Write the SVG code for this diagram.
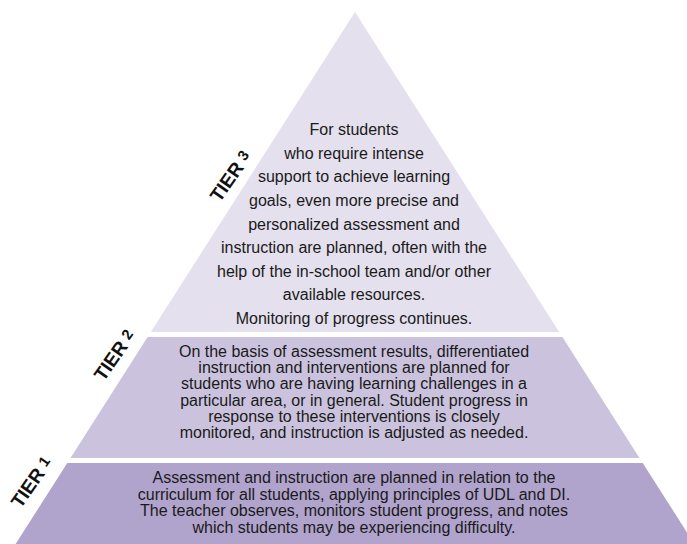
<svg xmlns="http://www.w3.org/2000/svg" width="687" height="544" viewBox="0 0 687 544">
<style>
.t{font-family:"Liberation Sans",Arial,sans-serif;font-size:16px;fill:#1a1a1a;text-anchor:middle}
.lab{font-family:"Liberation Sans",Arial,sans-serif;font-weight:bold;font-size:19px;fill:#111;text-anchor:middle}
.num{font-size:15px}
</style>
<rect width="687" height="544" fill="#ffffff"/>
<g id="tier3">
<polygon points="355,12 150.8,332 559.2,332" fill="#e4e0ed"/>
<text class="t" x="354" y="135">For students</text>
<text class="t" x="354" y="158.5">who require intense</text>
<text class="t" x="354" y="182">support to achieve learning</text>
<text class="t" x="354" y="206">goals, even more precise and</text>
<text class="t" x="354" y="229.5">personalized assessment and</text>
<text class="t" x="354" y="253">instruction are planned, often with the</text>
<text class="t" x="354" y="277">help of the in-school team and/or other</text>
<text class="t" x="354" y="300">available resources.</text>
<text class="t" x="354" y="323.5">Monitoring of progress continues.</text>
<text class="lab" transform="translate(236,180) rotate(-55)">TIER <tspan class="num" dy="-3">3</tspan></text>
</g>
<g id="tier2">
<polygon points="147.6,337 562.4,337 639.5,458 70.5,458" fill="#cbc3de"/>
<text class="t" x="354" y="357">On the basis of assessment results, differentiated</text>
<text class="t" x="354" y="373.2">instruction and interventions are planned for</text>
<text class="t" x="354" y="389.4">students who are having learning challenges in a</text>
<text class="t" x="354" y="405.6">particular area, or in general. Student progress in</text>
<text class="t" x="354" y="421.8">response to these interventions is closely</text>
<text class="t" x="354" y="438">monitored, and instruction is adjusted as needed.</text>
<text class="lab" transform="translate(120,359) rotate(-55)">TIER <tspan class="num" dy="-3">2</tspan></text>
</g>
<g id="tier1">
<polygon points="67.3,463 642.7,463 694.4,544 15.6,544" fill="#b0a3cc"/>
<text class="t" x="354" y="483">Assessment and instruction are planned in relation to the</text>
<text class="t" x="354" y="499.5">curriculum for all students, applying principles of UDL and DI.</text>
<text class="t" x="354" y="516">The teacher observes, monitors student progress, and notes</text>
<text class="t" x="354" y="532.5">which students may be experiencing difficulty.</text>
<text class="lab" transform="translate(37,486) rotate(-55)">TIER <tspan class="num" dy="-3">1</tspan></text>
</g>
</svg>
